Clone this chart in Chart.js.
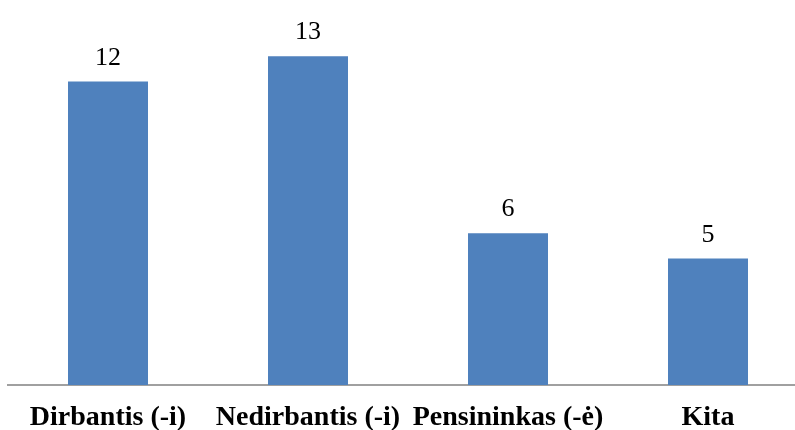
<!DOCTYPE html>
<html>
<head>
<meta charset="utf-8">
<script src="https://cdn.jsdelivr.net/npm/chart.js@4.4.0/dist/chart.umd.min.js"></script>
<style>
  html, body { margin: 0; padding: 0; overflow: hidden; background: #fff; }
  #wrap { width: 808px; height: 430px; }
</style>
</head>
<body>
<div id="wrap"><canvas id="BarChart"></canvas></div>
<script>
var categories = ["Dirbantis (-i)", "Nedirbantis (-i)", "Pensininkas (-ė)", "Kita"];
var values = [12, 13, 6, 5];

// draw the number over each bar
var valueLabels = {
   id: 'valueLabels',
   afterDatasetsDraw: function(chart) {
      var ctx = chart.ctx;
      var meta = chart.getDatasetMeta(0);
      ctx.save();
      ctx.font = '26px "Liberation Serif", "Times New Roman", serif';
      ctx.fillStyle = '#000';
      ctx.textAlign = 'center';
      ctx.textBaseline = 'alphabetic';
      meta.data.forEach(function(bar, i) {
         ctx.fillText(values[i], bar.x, bar.y - 17);
      });
      ctx.restore();
   }
};

var barCanvas = document.getElementById('BarChart').getContext('2d');

var BarChart = new Chart(barCanvas, {
   type: 'bar',
   data: {
      labels: categories,
      datasets: [{
         data: values,
         backgroundColor: '#4F81BD',
         borderWidth: 0,
         barPercentage: 0.4,
         categoryPercentage: 1.0
      }]
   },
   options: {
      responsive: true,
      maintainAspectRatio: false,
      animation: false,
      layout: { padding: { top: 31, left: 8, right: 0, bottom: 0 } },
      plugins: {
         legend: { display: false },
         tooltip: { enabled: false }
      },
      scales: {
         x: {
            afterFit: function(scale) { scale.height = 45; },
            grid: { display: false, drawTicks: false, tickLength: 0 },
            border: { display: true, color: '#a0a0a0', width: 2 },
            ticks: {
               color: '#000',
               padding: 16,
               maxRotation: 0,
               autoSkip: false,
               font: { family: '"Liberation Serif", "Times New Roman", serif', size: 28, weight: 'bold' }
            }
         },
         y: {
            display: false,
            min: 0,
            max: 14
         }
      }
   },
   plugins: [valueLabels]
});
</script>
</body>
</html>
